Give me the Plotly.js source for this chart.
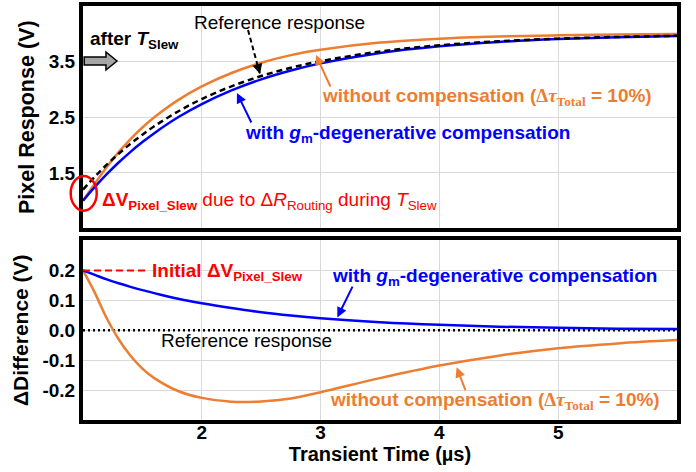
<!DOCTYPE html>
<html>
<head>
<meta charset="utf-8">
<script src="https://cdn.plot.ly/plotly-3.0.1.min.js"></script>
<style>html,body{margin:0;padding:0;background:#fff;}#chart{width:696px;height:472px;}</style>
</head>
<body>
<div id="chart"></div>
<script>
// Transient time (µs)
const time = [1.0, 1.1, 1.2, 1.3, 1.4, 1.5, 1.6, 1.8, 2.0, 2.25, 2.5, 2.75, 3.0, 3.5, 4.0, 4.5, 5.0, 5.5, 6.0];
// Pixel response (V)
const refResponse   = [1.200, 1.433, 1.647, 1.843, 2.023, 2.187, 2.338, 2.604, 2.827, 3.056, 3.241, 3.389, 3.508, 3.682, 3.794, 3.866, 3.913, 3.944, 3.964];
const withGmComp    = [1.000, 1.248, 1.477, 1.686, 1.878, 2.053, 2.214, 2.499, 2.737, 2.982, 3.181, 3.340, 3.468, 3.655, 3.776, 3.854, 3.905, 3.939, 3.960];
const withoutComp   = [1.000, 1.308, 1.607, 1.873, 2.108, 2.315, 2.498, 2.807, 3.053, 3.295, 3.479, 3.617, 3.713, 3.842, 3.912, 3.951, 3.973, 3.988, 3.997];
// ΔDifference (V) relative to the reference response
const diffReference = [0, 0, 0, 0, 0, 0, 0, 0, 0, 0, 0, 0, 0, 0, 0, 0, 0, 0, 0];
const diffWithGm    = [0.200, 0.185, 0.170, 0.157, 0.145, 0.134, 0.124, 0.105, 0.090, 0.074, 0.060, 0.049, 0.040, 0.027, 0.018, 0.012, 0.008, 0.005, 0.004];
const diffWithout   = [0.200, 0.125, 0.040, -0.030, -0.085, -0.128, -0.160, -0.203, -0.226, -0.239, -0.238, -0.228, -0.207, -0.160, -0.118, -0.085, -0.060, -0.044, -0.033];
// Tick labels
const xTicks = [2, 3, 4, 5];
const topYTicks = [1.5, 2.5, 3.5];
const botYTicks = [-0.2, -0.1, 0.0, 0.1, 0.2];
const botYTickText = ['-0.2', '-0.1', '0.0', '0.1', '0.2'];

const ORANGE = '#ED7D31', BLUE = '#0000FF', RED = '#FF0000';
const FONT = 'Liberation Sans, Arial, sans-serif';

const traces = [
  {x: time, y: withoutComp, xaxis: 'x2', yaxis: 'y2', mode: 'lines', line: {color: ORANGE, width: 2.5, shape: 'spline', smoothing: 1}, name: 'without compensation'},
  {x: time, y: withGmComp, xaxis: 'x2', yaxis: 'y2', mode: 'lines', line: {color: BLUE, width: 2.5, shape: 'spline', smoothing: 1}, name: 'with gm-degenerative compensation'},
  {x: time, y: refResponse, xaxis: 'x2', yaxis: 'y2', mode: 'lines', line: {color: '#000', width: 2.5, dash: '6px,4px', shape: 'spline', smoothing: 1}, name: 'Reference response'},
  {x: time, y: diffReference, xaxis: 'x', yaxis: 'y', mode: 'lines', line: {color: '#000', width: 2.5, dash: '2px,3px'}, name: 'Reference response'},
  {x: time, y: diffWithout, xaxis: 'x', yaxis: 'y', mode: 'lines', line: {color: ORANGE, width: 2.5, shape: 'spline', smoothing: 1}, name: 'without compensation'},
  {x: time, y: diffWithGm, xaxis: 'x', yaxis: 'y', mode: 'lines', line: {color: BLUE, width: 2.5, shape: 'spline', smoothing: 1}, name: 'with gm-degenerative compensation'}
];

const axBase = {showline: true, mirror: true, linewidth: 4, linecolor: '#000', gridcolor: '#d9d9d9', gridwidth: 1,
  zeroline: false, ticks: '', tickfont: {family: FONT, size: 19, color: '#000', weight: 'bold'}};

const orangeText = '<b>without compensation (<span style="font-family:Liberation Serif">Δ<i>τ</i><sub>Total</sub></span> = 10%)</b>';
const blueText = '<b>with <i>g</i><sub>m</sub>-degenerative compensation</b>';

function arrow(xref, yref, x, y, ax, ay, color) {
  return {xref: xref, yref: yref, axref: xref, ayref: yref, x: x, y: y, ax: ax, ay: ay, text: '',
    showarrow: true, arrowhead: 2, arrowsize: 1, arrowwidth: 2, arrowcolor: color};
}
function label(xref, yref, x, y, text, color, xanchor) {
  return {xref: xref, yref: yref, x: x, y: y, text: text, showarrow: false, xanchor: xanchor || 'left', yanchor: 'middle',
    font: {family: FONT, size: 19, color: color}};
}

const layout = {
  width: 696, height: 472,
  margin: {l: 83, r: 19, t: 6, b: 52},
  paper_bgcolor: '#fff', plot_bgcolor: '#fff',
  showlegend: false,
  font: {family: FONT, color: '#000'},
  xaxis: Object.assign({}, axBase, {domain: [0, 1], range: [1, 6], tickvals: xTicks, anchor: 'y', ticklabelstandoff: -8,
    title: {text: '<b>Transient Time (µs)</b>', font: {family: FONT, size: 20}, standoff: 0}}),
  yaxis: Object.assign({}, axBase, {domain: [0, 0.4336], range: [-0.3, 0.3], tickvals: botYTicks, ticktext: botYTickText, anchor: 'x',
    title: {text: '<b>ΔDifference (V)</b>', font: {family: FONT, size: 21}, standoff: 9}}),
  xaxis2: Object.assign({}, axBase, {domain: [0, 1], range: [1, 6], tickvals: xTicks, showticklabels: false, anchor: 'y2'}),
  yaxis2: Object.assign({}, axBase, {domain: [0.4626, 1], range: [0.5, 4.5], tickvals: topYTicks, anchor: 'x2',
    title: {text: '<b>Pixel Response (V)</b>', font: {family: FONT, size: 21.5}, standoff: 9}}),
  shapes: [
    // dashed pointer for "Reference response" (top)
    {type: 'line', xref: 'x2', yref: 'y2', x0: 2.389, y0: 4.068, x1: 2.488, y1: 3.29, line: {color: '#000', width: 2, dash: '5px,3px'}},
    // red ellipse at start
    {type: 'circle', xref: 'paper', yref: 'paper', x0: -0.0207, x1: 0.0231, y0: 0.5056, y1: 0.5894, line: {color: RED, width: 2.5}},
    // gray block arrow "after T_Slew"
    {type: 'path', xref: 'paper', yref: 'paper',
      path: 'M0.002,0.8768 L0.0387,0.8768 L0.0387,0.8889 L0.0572,0.8671 L0.0387,0.8454 L0.0387,0.8575 L0.002,0.8575 Z',
      fillcolor: '#a6a6a6', line: {color: '#000', width: 1.5}},
    // red dashed "Initial" line (bottom)
    {type: 'line', xref: 'x', yref: 'y', x0: 1.0, y0: 0.2, x1: 1.547, y1: 0.2, line: {color: RED, width: 2, dash: '7px,4px'}}
  ],
  annotations: [
    // top panel
    label('x2', 'y2', 2.650, 4.212, 'Reference response', '#000', 'center'),
    {xref: 'x2', yref: 'y2', x: 2.490, y: 3.277, ax: -3, ay: -11, text: '', showarrow: true, arrowhead: 2, arrowsize: 1, arrowwidth: 2, arrowcolor: '#000'},
    label('x2', 'y2', 1.042, 3.888, '<b>after <i>T</i><sub>Slew</sub></b>', '#000'),
    label('x2', 'y2', 2.995, 2.863, orangeText, ORANGE),
    arrow('x2', 'y2', 2.961, 3.619, 3.088, 3.025, ORANGE),
    label('x2', 'y2', 2.347, 2.198, blueText, BLUE),
    arrow('x2', 'y2', 2.296, 2.935, 2.423, 2.378, BLUE),
    label('x2', 'y2', 1.143, 0.993, '<b>ΔV<sub>Pixel_Slew</sub></b> due to Δ<i>R</i><sub>Routing</sub> during <i>T</i><sub>Slew</sub>', RED),
    // bottom panel
    label('x', 'y', 1.564, 0.195, '<b>Initial ΔV<sub>Pixel_Slew</sub></b>', RED),
    label('x', 'y', 3.079, 0.178, blueText, BLUE),
    arrow('x', 'y', 3.141, 0.043, 3.275, 0.151, BLUE),
    label('x', 'y', 2.376, -0.033, 'Reference response', '#000', 'center'),
    label('x', 'y', 3.062, -0.236, orangeText, ORANGE),
    arrow('x', 'y', 4.145, -0.124, 4.224, -0.205, ORANGE)
  ]
};

Plotly.newPlot('chart', traces, layout, {staticPlot: true, displayModeBar: false});
</script>
</body>
</html>
